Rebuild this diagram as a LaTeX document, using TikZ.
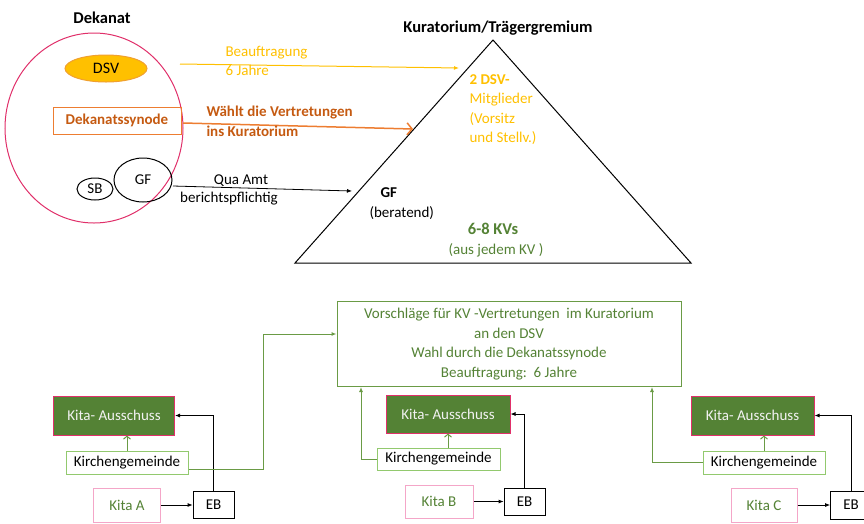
\documentclass[tikz,border=0pt]{standalone}
\usepackage{fontspec}
\setmainfont{Carlito}
\usetikzlibrary{arrows.meta,shapes.geometric}
\definecolor{pinkred}{HTML}{E0306A}
\definecolor{yellowc}{HTML}{FFC000}
\definecolor{orangeb}{HTML}{ED7D31}
\definecolor{darkor}{HTML}{C55A11}
\definecolor{kgreen}{HTML}{548235}
\definecolor{mgreen}{HTML}{6A9B45}
\definecolor{lgreen}{HTML}{92C96E}
\definecolor{pinkl}{HTML}{F4A6C8}
\definecolor{dsvb}{HTML}{F0A030}
\tikzset{
  body/.style={font=\fontsize{15}{19.5}\selectfont},
  bbody/.style={font=\fontsize{15}{19.5}\selectfont\bfseries},
  title/.style={font=\fontsize{16.5}{20}\selectfont\bfseries},
  box/.style={draw, rectangle, inner sep=0pt, align=center, body},
  kitaaus/.style={box, draw=pinkred, fill=kgreen, text=white!95!black, line width=1pt},
  kirche/.style={box, draw=lgreen, line width=1pt, minimum width=122pt, minimum height=23pt},
  kitabox/.style={box, draw=pinkl, text=kgreen, line width=1pt, minimum width=67pt, minimum height=34pt},
  ebbox/.style={box, draw=black, line width=0.8pt, minimum width=41pt, minimum height=27pt},
  blk/.style={-{Latex[length=5pt,width=4pt]}, black, line width=0.8pt},
  garr/.style={-{Latex[length=5pt,width=4pt]}, draw=mgreen, line width=1pt},
  gopen/.style={-{Straight Barb[length=3pt,width=7pt]}, draw=mgreen, line width=1pt},
}
\begin{document}
\begin{tikzpicture}[x=1pt,y=-1pt]
\useasboundingbox (0,0) rectangle (864,523);
% ---------- Dekanat ----------
\node[title] (dekl) at (102,18) {Dekanat};
\node[ellipse, draw=pinkred, line width=1pt, minimum width=178pt, minimum height=190pt, inner sep=0pt] (dek) at (94,128) {};
\node[ellipse, fill=yellowc, draw=dsvb, line width=1pt, minimum width=82pt, minimum height=27pt, inner sep=0pt, font=\fontsize{16}{20}\selectfont] (dsv) at (106,68.5) {DSV};
\node[box, draw=orangeb, line width=1pt, text=darkor, bbody, minimum width=128pt, minimum height=27pt] (syn) at (117,120.5) {Dekanatssynode};
\node[ellipse, draw, line width=1pt, minimum width=36pt, minimum height=22pt, inner sep=0pt, font=\fontsize{15}{17}\selectfont] (sb) at (95,189) {SB};
\node[ellipse, draw, line width=1pt, minimum width=58pt, minimum height=44pt, inner sep=0pt, font=\fontsize{15}{17}\selectfont] (gf) at (143,180) {GF};
% ---------- Kuratorium ----------
\node[title] (kur) at (498,28) {Kuratorium/Trägergremium};
\coordinate (tT) at (493,40);
\coordinate (tL) at (295,263);
\coordinate (tR) at (691,263);
\draw[line width=1pt] (tT) -- (tL) -- (tR) -- cycle;
\node[body, anchor=west, align=left, text=yellowc] (dsvm) at (466,109.5) {\textbf{2 DSV-}\\Mitglieder\\(Vorsitz\\und Stellv.)};
\node[bbody, anchor=west] (gfk) at (377,193) {GF};
\node[body, anchor=west] (ber) at (366,213) {(beratend)};
\node[title, text=kgreen] (kvs) at (493,229) {6-8 KVs};
\node[body, text=kgreen] (kvj) at (496,250) {(aus jedem KV )};
% ---------- arrows top ----------
\coordinate (a1s) at (180,64);
\coordinate (a1e) at (459,68);
\draw[-{Latex[length=5pt,width=4pt]}, draw=yellowc, line width=1pt] (a1s) -- (a1e);
\node[body, anchor=west, align=left, text=yellowc] (a1l) at (222,61) {Beauftragung\\6 Jahre};
\coordinate (a2s) at (183,123);
\coordinate (a2e) at (413,129);
\draw[-{Straight Barb[length=5pt,width=12pt]}, draw=orangeb, line width=1.5pt] (a2s) -- (a2e);
\node[bbody, anchor=west, align=left, text=darkor] (a2l) at (203,121.5) {Wählt die Vertretungen\\ins Kuratorium};
\coordinate (a3s) at (173,186);
\coordinate (a3e) at (352,191);
\draw[blk] (a3s) -- (a3e);
\node[body] (qua) at (241,181) {Qua Amt};
\node[body] (bpf) at (229,199) {berichtspflichtig};
% ---------- bottom ----------
\node[box, draw=mgreen, line width=1pt, text=kgreen, minimum width=344pt, minimum height=85pt] (top) at (509,344) {Vorschläge für KV -Vertretungen\ \ im Kuratorium\\an den DSV\\Wahl durch die Dekanatssynode\\Beauftragung:\ \ 6 Jahre};
% A
\node[kitaaus, minimum width=121pt, minimum height=39pt] (kaA) at (114,415.5) {Kita- Ausschuss};
\node[kirche] (kgA) at (127,462.5) {Kirchengemeinde};
\node[kitabox] (kitaA) at (127,505) {Kita A};
\node[ebbox] (ebA) at (213.5,505) {EB};
% B
\node[kitaaus, minimum width=124pt, minimum height=38pt] (kaB) at (448,414) {Kita- Ausschuss};
\node[kirche, minimum width=123pt, minimum height=22pt] (kgB) at (438.5,459) {Kirchengemeinde};
\node[kitabox, minimum width=68pt, minimum height=33pt] (kitaB) at (439,501.5) {Kita B};
\node[ebbox] (ebB) at (524.5,501.5) {EB};
% C
\node[kitaaus, minimum width=123pt, minimum height=39pt] (kaC) at (752.5,415.5) {Kita- Ausschuss};
\node[kirche] (kgC) at (764,462.5) {Kirchengemeinde};
\node[kitabox, minimum width=66pt] (kitaC) at (764,505) {Kita C};
\node[ebbox, draw=none] (ebC) at (851,505) {EB};
\draw[line width=0.8pt] ([xshift=13pt]ebC.north) -- (ebC.north west) -- (ebC.south west) -- ([xshift=13pt]ebC.south);
% connectors
\draw[blk] (kitaA) -- (ebA);
\draw[blk] (kitaB) -- (ebB);
\draw[blk] (kitaC) -- (ebC);
\draw[blk] (ebA.north) |- (kaA.east);
\draw[blk] (ebB.north) |- (kaB.east);
\draw[blk] (ebC.north) |- (kaC.east);
\draw[gopen] (kgA.north) -- (kgA.north |- kaA.south);
\draw[gopen] (kaB.south |- kgB.north) -- (kaB.south);
\draw[gopen] (kgC.north) -- (kgC.north |- kaC.south);
\coordinate (yA) at (0,469);
\coordinate (jA) at (263,334);
\draw[garr] (kgA.east |- yA) -| (jA) -- (top.west |- jA);
\coordinate (xB) at (361,0);
\draw[garr] (kgB.west) -| (top.south -| xB);
\coordinate (xC) at (652,0);
\draw[garr] (kgC.west) -| (top.south -| xC);
\end{tikzpicture}
\end{document}
